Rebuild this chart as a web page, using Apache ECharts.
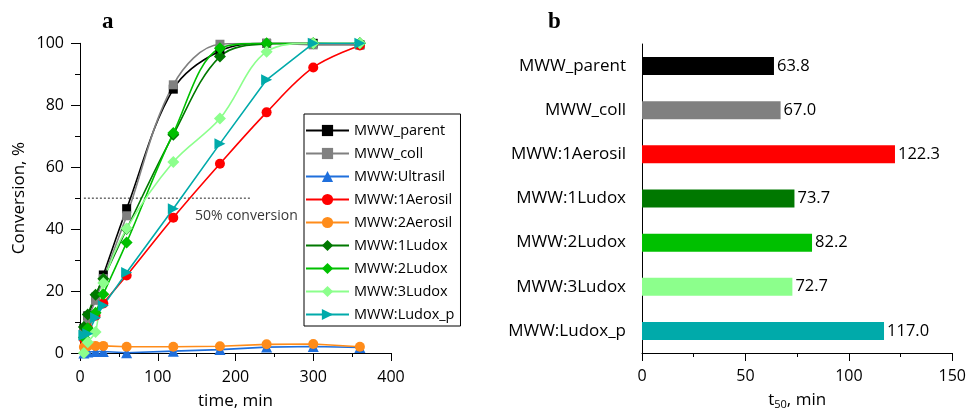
<!DOCTYPE html>
<html>
<head>
<meta charset="utf-8">
<script src="https://cdn.jsdelivr.net/npm/echarts@6/dist/echarts.min.js"></script>
<style>
html,body{margin:0;padding:0;background:#fff;}
#chart{width:969px;height:415px;}
</style>
</head>
<body>
<div id="chart"></div>
<script>
// ---- Panel a: conversion vs time ----
var times = [5, 10, 20, 30, 60, 120, 180, 240, 300, 360];
var parentConv   = [8, 12, 18, 25.2, 46.6, 85.2, 97.5, 100, 100, 99.5];
var collConv     = [7, 11, 17, 24, 44.3, 86.6, 99.7, 100, 99.5, 99.5];
var ultrasilConv = [0, 0.3, 0.5, 0.5, 0.1, 0.6, 1.1, 1.9, 2.1, 1.8];
var aerosil1Conv = [4.5, 8, 12, 16, 25, 43.7, 61.1, 77.7, 92.2, 99.3];
var aerosil2Conv = [1.9, 2.2, 2.3, 2.3, 2.0, 2.0, 2.2, 2.8, 2.9, 2.0];
var ludox1Conv   = [8.4, 12.4, 18.8, 24, 40, 70.5, 95.7, 99.8, 100, 100];
var ludox2Conv   = [5, 8, 13, 19, 35.7, 71, 98.4, 100, 100, 100];
var ludox3Conv   = [0, 3.5, 6.8, 22.6, 40.2, 61.7, 75.7, 97.3, 100, 100];
var ludoxPConv   = [5.7, 6.2, 11.4, 15.3, 26, 46.6, 67.6, 88.2, 100, 100];
var halfLineX = [5, 220];
var halfLineY = 50;
var halfLabel = { text: '50% conversion', x: 214, y: 44.2 };

// ---- Panel b: t50 bars ----
var samples = ['MWW_parent', 'MWW_coll', 'MWW:1Aerosil', 'MWW:1Ludox', 'MWW:2Ludox', 'MWW:3Ludox', 'MWW:Ludox_p'];
var t50 = [63.8, 67.0, 122.3, 73.7, 82.2, 72.7, 117.0];
var barColors = ['#000000', '#808080', '#ff0000', '#007800', '#00c000', '#8cff8c', '#00aaaa'];

var FONT = 'Open Sans';

function pts(arr) { return times.map(function (t, i) { return [t, arr[i]]; }); }

var lineDefs = [
  { name: 'MWW_parent', data: parentConv, color: '#000000', symbol: 'rect', size: 9, smooth: true },
  { name: 'MWW_coll', data: collConv, color: '#808080', symbol: 'rect', size: 9, smooth: true },
  { name: 'MWW:Ultrasil', data: ultrasilConv, color: '#1f6fdc', symbol: 'triangle', size: 11, smooth: false },
  { name: 'MWW:1Aerosil', data: aerosil1Conv, color: '#ff0000', symbol: 'circle', size: 10, smooth: true },
  { name: 'MWW:2Aerosil', data: aerosil2Conv, color: '#ff8c1a', symbol: 'circle', size: 10, smooth: false },
  { name: 'MWW:1Ludox', data: ludox1Conv, color: '#007800', symbol: 'diamond', size: 12, smooth: true },
  { name: 'MWW:2Ludox', data: ludox2Conv, color: '#00c000', symbol: 'diamond', size: 12, smooth: true },
  { name: 'MWW:3Ludox', data: ludox3Conv, color: '#8cff8c', symbol: 'diamond', size: 12, smooth: true },
  { name: 'MWW:Ludox_p', data: ludoxPConv, color: '#00aaaa', symbol: 'path://M0,0L10,5L0,10Z', size: 11, smooth: false }
];

var series = lineDefs.map(function (d) {
  return {
    name: d.name, type: 'line', xAxisIndex: 0, yAxisIndex: 0,
    data: pts(d.data), smooth: d.smooth ? 0.35 : false,
    symbol: d.symbol, symbolSize: d.size, showSymbol: true,
    lineStyle: { color: d.color, width: 1.6 },
    itemStyle: { color: d.color },
    emphasis: { disabled: true }
  };
});

series.push({
  name: 'half', type: 'line', xAxisIndex: 0, yAxisIndex: 0,
  data: halfLineX.map(function (x) { return [x, halfLineY]; }),
  symbol: 'none', lineStyle: { color: '#222', width: 1, type: [2, 2] },
  z: 1, silent: true
});
series.push({
  name: 'halfLabel', type: 'scatter', xAxisIndex: 0, yAxisIndex: 0,
  data: [[halfLabel.x, halfLabel.y]], symbolSize: 0, silent: true,
  label: { show: true, position: 'inside', formatter: halfLabel.text, color: '#000', fontFamily: FONT, fontSize: 14 }
});

series.push({
  name: 't50', type: 'bar', xAxisIndex: 1, yAxisIndex: 1,
  data: t50.map(function (v, i) { return { value: v, itemStyle: { color: barColors[i] } }; }),
  barWidth: 18,
  label: { show: true, position: 'right', distance: 3, formatter: function (p) { return p.value.toFixed(1); }, color: '#000', fontFamily: FONT, fontSize: 16.5 }
});

var axisLineStyle = { show: true, lineStyle: { color: '#000', width: 1 } };
var labelStyle = { color: '#000', fontFamily: FONT, fontSize: 16 };

var option = {
  animation: false,
  backgroundColor: '#fff',
  title: [
    { text: 'a', left: 97, top: 6, textStyle: { fontFamily: 'Liberation Serif', fontWeight: 'bold', fontSize: 23, color: '#000' } },
    { text: 'b', left: 543, top: 6, textStyle: { fontFamily: 'Liberation Serif', fontWeight: 'bold', fontSize: 23, color: '#000' } }
  ],
  legend: {
    data: lineDefs.map(function (d) { return d.name; }),
    orient: 'vertical', left: 304, top: 114,
    itemWidth: 43, itemHeight: 14, itemGap: 8,
    padding: [9, 6, 4, 1],
    borderColor: '#000', borderWidth: 1,
    textStyle: { color: '#000', fontFamily: FONT, fontSize: 14.5, lineHeight: 14 },
    selectedMode: false
  },
  grid: [
    { left: 80, top: 43.3, width: 311, height: 311 },
    { left: 642, top: 44, width: 312, height: 312 }
  ],
  xAxis: [
    {
      gridIndex: 0, type: 'value', min: 0, max: 400, interval: 100,
      name: 'time, min', nameLocation: 'middle', nameGap: 40,
      nameTextStyle: { color: '#000', fontFamily: FONT, fontSize: 17 },
      axisLine: axisLineStyle,
      axisTick: { show: true, inside: false, length: 8, lineStyle: { color: '#000' } },
      minorTick: { show: true, splitNumber: 2, length: 4, lineStyle: { color: '#000' } },
      axisLabel: Object.assign({ margin: 16 }, labelStyle),
      splitLine: { show: false }
    },
    {
      gridIndex: 1, type: 'value', min: 0, max: 150, interval: 50,
      name: '{t|t}{s|50}{t|, min}', nameLocation: 'middle', nameGap: 38,
      nameTextStyle: { rich: { t: { color: '#000', fontFamily: FONT, fontSize: 17 }, s: { color: '#000', fontFamily: FONT, fontSize: 11, verticalAlign: 'bottom', padding: [8, 0, 0, 0] } } },
      axisLine: axisLineStyle,
      axisTick: { show: true, inside: false, length: 8, lineStyle: { color: '#000' } },
      minorTick: { show: true, splitNumber: 2, length: 4, lineStyle: { color: '#000' } },
      axisLabel: Object.assign({ margin: 15 }, labelStyle),
      splitLine: { show: false }
    }
  ],
  yAxis: [
    {
      gridIndex: 0, type: 'value', min: 0, max: 100, interval: 20,
      name: 'Conversion, %', nameLocation: 'middle', nameGap: 52,
      nameTextStyle: { color: '#000', fontFamily: FONT, fontSize: 17 },
      axisLine: axisLineStyle,
      axisTick: { show: true, inside: false, length: 9, lineStyle: { color: '#000' } },
      minorTick: { show: true, splitNumber: 2, length: 5, lineStyle: { color: '#000' } },
      axisLabel: Object.assign({ margin: 16 }, labelStyle),
      splitLine: { show: false }
    },
    {
      gridIndex: 1, type: 'category', data: samples, inverse: true,
      axisLine: axisLineStyle,
      axisTick: { show: false },
      axisLabel: { margin: 16, color: '#000', fontFamily: FONT, fontSize: 17 },
      splitLine: { show: false }
    }
  ],
  series: series
};

var chart = echarts.init(document.getElementById('chart'), null, { renderer: 'canvas' });
chart.setOption(option);
</script>
</body>
</html>
